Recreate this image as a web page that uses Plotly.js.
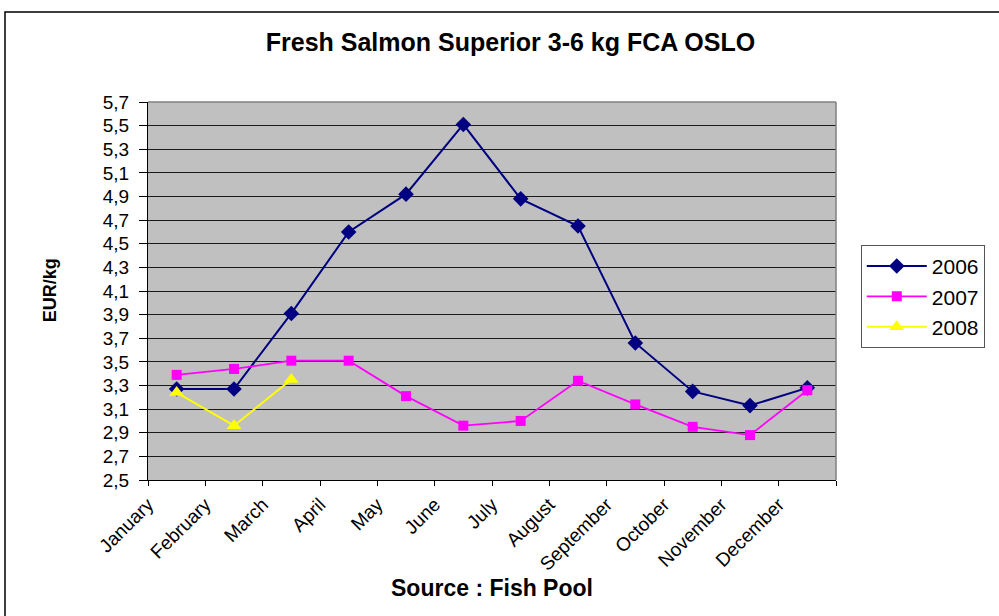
<!DOCTYPE html>
<html>
<head>
<meta charset="utf-8">
<script src="https://cdn.plot.ly/plotly-3.0.1.min.js"></script>
<style>html,body{margin:0;padding:0;background:#fff;}#chart{width:999px;height:616px;}</style>
</head>
<body>
<div id="chart"></div>
<script>
var months = ["January","February","March","April","May","June","July","August","September","October","November","December"];
var s2006 = [3.27, 3.27, 3.91, 4.60, 4.92, 5.51, 4.88, 4.65, 3.66, 3.25, 3.13, 3.28];
var s2007 = [3.39, 3.44, 3.51, 3.51, 3.21, 2.96, 3.00, 3.34, 3.14, 2.95, 2.88, 3.26];
var s2008 = [3.24, 2.96, 3.35];
var yTicks = [2.5, 2.7, 2.9, 3.1, 3.3, 3.5, 3.7, 3.9, 4.1, 4.3, 4.5, 4.7, 4.9, 5.1, 5.3, 5.5, 5.7];

function centers(arr){ return arr.map(function(_, i){ return i + 0.5; }); }
var tickPos = months.map(function(_, i){ return i; }).concat([months.length]);
var tickTxt = months.concat([""]);

var traces = [
  {name:"2006", x:centers(s2006), y:s2006, type:"scatter", mode:"lines+markers",
   line:{color:"#000080", width:2}, marker:{symbol:"diamond", size:12, color:"#000080"}},
  {name:"2007", x:centers(s2007), y:s2007, type:"scatter", mode:"lines+markers",
   line:{color:"#FF00FF", width:1.8}, marker:{symbol:"square", size:10, color:"#FF00FF"}},
  {name:"2008", x:centers(s2008), y:s2008, type:"scatter", mode:"lines+markers",
   line:{color:"#FFFF00", width:2}, marker:{symbol:"triangle-up", size:13, color:"#FFFF00"}}
];

var layout = {
  width:999, height:616,
  margin:{l:148, r:163, t:102, b:136},
  paper_bgcolor:"#ffffff", plot_bgcolor:"#C0C0C0",
  font:{family:"Liberation Sans, Arial, sans-serif", color:"#000"},
  separators:",.",
  title:{text:"<b>Fresh Salmon Superior 3-6 kg FCA OSLO</b>", font:{size:25, family:"Liberation Sans, Arial, sans-serif"},
         x:0.511, xref:"container", xanchor:"center", y:0.932, yref:"container", yanchor:"middle"},
  xaxis:{range:[0, 12], tickmode:"array", tickvals:tickPos, ticktext:tickTxt, tickangle:-45,
         ticks:"outside", ticklen:5, tickcolor:"#000", showline:true, linecolor:"#000", linewidth:1,
         showgrid:false, zeroline:false, tickfont:{size:19}, fixedrange:true,
         title:{text:"<b>Source : Fish Pool</b>", font:{size:23}, standoff:3}},
  yaxis:{range:[2.5, 5.7], tickmode:"array", tickvals:yTicks, tickformat:".1f",
         ticks:"outside", ticklen:8, tickcolor:"#000", showline:true, linecolor:"#000", linewidth:1,
         ticklabelstandoff:6,
         showgrid:true, gridcolor:"#1a1a1a", gridwidth:1, zeroline:false, tickfont:{size:19}, fixedrange:true},
  showlegend:true,
  legend:{x:1.036, y:0.622, xanchor:"left", yanchor:"top", bgcolor:"#fff", bordercolor:"#555", borderwidth:1,
          font:{size:21}, tracegroupgap:2, itemwidth:60},
  annotations:[
    {text:"<b>EUR/kg</b>", textangle:-90, xref:"paper", yref:"paper", x:-0.142, y:0.503,
     xanchor:"center", yanchor:"middle", showarrow:false, font:{size:18}}
  ],
  shapes:[
    {type:"rect", xref:"paper", yref:"paper", x0:(5-148)/688, x1:(1010-148)/688, y0:(480-630)/378, y1:(480-12)/378,
     line:{color:"#000", width:1.5}, fillcolor:"rgba(0,0,0,0)", layer:"below"},
    {type:"line", xref:"paper", yref:"paper", x0:0, x1:1, y0:1, y1:1, line:{color:"#808080", width:1.5}},
    {type:"line", xref:"paper", yref:"paper", x0:1, x1:1, y0:0, y1:1, line:{color:"#808080", width:1.5}}
  ]
};

Plotly.newPlot("chart", traces, layout, {displayModeBar:false, staticPlot:true});
</script>
</body>
</html>
